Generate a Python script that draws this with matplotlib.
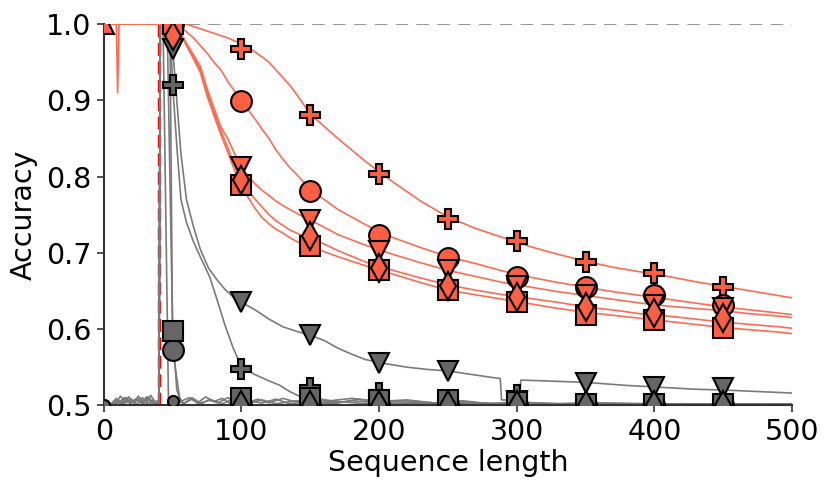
import numpy as np
import matplotlib
matplotlib.use('Agg')
import matplotlib.pyplot as plt

# marker positions (every 50 steps, from 50)
mark_x = [50, 100, 150, 200, 250, 300, 350, 400, 450]

# red curves (one shared x grid)
red_x = [0, 9, 10, 11, 45, 50, 55, 60, 65, 70, 75, 80, 85, 90, 95, 100, 105, 110, 115,
         120, 125, 130, 135, 140, 145, 150, 170, 190, 210, 230, 250, 270, 290, 310,
         330, 350, 370, 390, 410, 430, 450, 470, 490, 500]
red_plus = [1, 1, 0.91, 1, 1, 1, 1, 1, 0.997, 0.994, 0.991, 0.988, 0.985, 0.982, 0.978,
            0.975, 0.97, 0.963, 0.957, 0.95, 0.94, 0.93, 0.92, 0.908, 0.895, 0.882,
            0.85, 0.82, 0.793, 0.768, 0.747, 0.732, 0.72, 0.708, 0.698, 0.689, 0.681,
            0.675, 0.669, 0.662, 0.656, 0.65, 0.644, 0.641]
red_circ = [1, 1, 1, 1, 1, 1, 0.998, 0.99, 0.982, 0.972, 0.962, 0.95, 0.94, 0.925, 0.912,
            0.9, 0.887, 0.875, 0.862, 0.85, 0.835, 0.823, 0.812, 0.803, 0.793, 0.783,
            0.757, 0.737, 0.72, 0.707, 0.695, 0.686, 0.676, 0.668, 0.661, 0.655, 0.649,
            0.644, 0.639, 0.634, 0.629, 0.625, 0.621, 0.619]
red_tri = [1, 1, 1, 1, 1, 1, 0.99, 0.975, 0.96, 0.945, 0.915, 0.89, 0.865, 0.85, 0.83,
           0.812, 0.8, 0.79, 0.782, 0.775, 0.768, 0.762, 0.757, 0.752, 0.747, 0.743,
           0.724, 0.71, 0.698, 0.687, 0.677, 0.669, 0.661, 0.655, 0.649, 0.644, 0.639,
           0.634, 0.63, 0.627, 0.624, 0.62, 0.617, 0.615]
red_dia = [1, 1, 1, 1, 1, 1, 0.99, 0.973, 0.957, 0.94, 0.91, 0.885, 0.86, 0.838, 0.815,
           0.797, 0.782, 0.77, 0.76, 0.75, 0.742, 0.736, 0.73, 0.726, 0.722, 0.72,
           0.703, 0.688, 0.677, 0.667, 0.658, 0.651, 0.645, 0.64, 0.635, 0.629, 0.625,
           0.62, 0.617, 0.613, 0.609, 0.606, 0.603, 0.601]
red_sq = [1, 1, 1, 1, 1, 1, 0.99, 0.972, 0.955, 0.937, 0.906, 0.88, 0.855, 0.832, 0.808,
          0.789, 0.772, 0.758, 0.746, 0.738, 0.731, 0.726, 0.72, 0.715, 0.711, 0.708,
          0.695, 0.683, 0.672, 0.661, 0.651, 0.645, 0.639, 0.633, 0.627, 0.622, 0.618,
          0.614, 0.61, 0.606, 0.602, 0.599, 0.596, 0.594]

red_plus_m = [1, 0.968, 0.881, 0.804, 0.745, 0.715, 0.688, 0.673, 0.655]
red_circ_m = [1, 0.899, 0.781, 0.723, 0.693, 0.668, 0.655, 0.645, 0.631]
red_tri_m = [1, 0.812, 0.743, 0.703, 0.677, 0.657, 0.645, 0.632, 0.627]
red_dia_m = [0.985, 0.795, 0.722, 0.68, 0.657, 0.642, 0.629, 0.621, 0.614]
red_sq_m = [1, 0.789, 0.709, 0.677, 0.651, 0.635, 0.618, 0.612, 0.602]

# gray curves (own x grids)
gray_tri_x = [0, 8, 12, 16, 20, 24, 28, 32, 36, 40, 41, 48, 50, 53, 56, 60, 65, 70, 76, 82,
              88, 94, 100, 110, 120, 130, 140, 150, 160, 170, 180, 190, 200, 210, 220,
              235, 250, 265, 280, 288, 289, 302, 303, 320, 350, 380, 400, 430, 450, 475, 500]
gray_tri = [0.5, 0.5, 0.512, 0.503, 0.508, 0.501, 0.51, 0.502, 0.507, 0.5, 1.0, 1.0, 0.968,
            0.9, 0.83, 0.77, 0.735, 0.705, 0.68, 0.665, 0.652, 0.642, 0.635, 0.625, 0.613,
            0.603, 0.597, 0.592, 0.585, 0.575, 0.567, 0.56, 0.556, 0.553, 0.55, 0.547,
            0.545, 0.541, 0.537, 0.535, 0.507, 0.506, 0.533, 0.532, 0.53, 0.526, 0.524,
            0.521, 0.52, 0.518, 0.516]
gray_plus_x = [0, 6, 10, 14, 18, 22, 26, 30, 34, 38, 40, 41, 48, 50, 53, 56, 60, 65, 70, 77,
               82, 88, 94, 100, 110, 120, 128, 135, 142, 150, 165, 180, 200, 220, 240, 260,
               280, 300, 330, 360, 400, 450, 500]
gray_plus = [0.5, 0.5, 0.506, 0.501, 0.511, 0.503, 0.509, 0.5, 0.513, 0.502, 0.5, 1.0, 1.0,
             0.92, 0.84, 0.77, 0.74, 0.715, 0.695, 0.668, 0.64, 0.605, 0.575, 0.55, 0.54,
             0.532, 0.526, 0.518, 0.512, 0.51, 0.506, 0.509, 0.505, 0.507, 0.503, 0.506,
             0.502, 0.504, 0.502, 0.503, 0.501, 0.502, 0.501]
gray_sq_x = [0, 5, 9, 13, 17, 21, 25, 29, 33, 37, 40, 41, 46, 50, 53, 56, 62, 68, 74, 80,
             86, 92, 98, 105, 112, 120, 130, 140, 155, 170, 185, 200, 220, 240, 260, 280,
             300, 330, 360, 400, 450, 500]
gray_sq = [0.5, 0.5, 0.509, 0.503, 0.507, 0.5, 0.512, 0.504, 0.509, 0.501, 0.5, 1.0, 1.0,
           0.597, 0.52, 0.505, 0.51, 0.503, 0.511, 0.505, 0.509, 0.502, 0.51, 0.504, 0.508,
           0.503, 0.509, 0.504, 0.507, 0.503, 0.508, 0.504, 0.506, 0.503, 0.505, 0.502,
           0.504, 0.502, 0.503, 0.502, 0.501, 0.502]
gray_circ_x = [0, 7, 11, 15, 19, 23, 27, 31, 35, 39, 40, 41, 48, 50, 55, 58, 64, 70, 76, 83,
               90, 97, 104, 115, 125, 135, 150, 165, 180, 200, 230, 260, 300, 350, 400, 450, 500]
gray_circ = [0.5, 0.5, 0.504, 0.51, 0.502, 0.508, 0.503, 0.511, 0.501, 0.506, 0.5, 1.0, 1.0,
             0.573, 0.51, 0.502, 0.508, 0.501, 0.507, 0.503, 0.51, 0.502, 0.506, 0.503,
             0.508, 0.502, 0.505, 0.502, 0.506, 0.503, 0.502, 0.504, 0.501, 0.502, 0.501,
             0.502, 0.501]
gray_dia_x = [0, 4, 8, 12, 16, 20, 24, 28, 32, 36, 40, 41, 43, 47, 52, 58, 64, 70, 78, 86,
              95, 105, 115, 125, 140, 155, 170, 190, 210, 240, 270, 300, 340, 380, 420, 460, 500]
gray_dia = [0.5, 0.5, 0.507, 0.502, 0.51, 0.504, 0.509, 0.501, 0.511, 0.503, 0.5, 1.0, 1.0,
            0.5, 0.508, 0.502, 0.51, 0.503, 0.507, 0.502, 0.509, 0.503, 0.507, 0.502, 0.506,
            0.503, 0.505, 0.502, 0.505, 0.502, 0.503, 0.501, 0.502, 0.501, 0.502, 0.501, 0.501]

gray_tri_m = [0.968, 0.635, 0.592, 0.556, 0.545, 0.506, 0.529, 0.524, 0.522]
gray_plus_m = [0.92, 0.548, 0.522, 0.516, 0.503, 0.514, 0.5, 0.5, 0.5]
gray_sq_m = [0.597, 0.51, 0.51, 0.507, 0.507, 0.504, 0.502, 0.502, 0.502]
gray_circ_m = [0.573, 0.5, 0.5, 0.5, 0.5, 0.5, 0.5, 0.5, 0.5]
gray_dia_m = [1.0, 0.5, 0.5, 0.5, 0.5, 0.5, 0.5, 0.5, 0.5]

# small markers near the origin
small_x = [0, 50]
small_y = [0.5, 0.505]
red_start_x = [0]
red_start_y = [1.0]

threshold = 40

red_line = '#ff6b50'
red_fill = '#ff5f42'
gray_line = '#7a7a7a'
gray_fill = '#666666'

plt.rcParams['font.family'] = ['DejaVu Sans']
fig = plt.figure(figsize=(8.31, 4.93), dpi=100)
ax = fig.add_axes([0.125, 0.178, 0.828, 0.773])

ax.axhline(1.0, color='#999999', ls=(0, (6, 4)), lw=1.5, zorder=1)
ax.axvline(threshold, color='red', ls='--', lw=2.5, zorder=2)

gray_series = [(gray_tri_x, gray_tri, gray_tri_m, 'v'),
               (gray_plus_x, gray_plus, gray_plus_m, 'P'),
               (gray_circ_x, gray_circ, gray_circ_m, 'o'),
               (gray_sq_x, gray_sq, gray_sq_m, 's'),
               (gray_dia_x, gray_dia, gray_dia_m, 'd')]
red_series = [(red_plus, red_plus_m, 'P'),
              (red_circ, red_circ_m, 'o'),
              (red_tri, red_tri_m, 'v'),
              (red_sq, red_sq_m, 's'),
              (red_dia, red_dia_m, 'd')]

for gx, gy, gm, mk in gray_series:
    ax.plot(gx, gy, color=gray_line, lw=1.2, zorder=2)
for ry, rm, mk in red_series:
    ax.plot(red_x, ry, color=red_line, lw=1.2, zorder=2)

for gx, gy, gm, mk in gray_series:
    ms = 14 if mk == 'd' else 15
    ax.plot(mark_x, gm, ls='none', marker=mk, ms=ms, mfc=gray_fill,
            mec='black', mew=1.5, zorder=3)
ax.plot(small_x, small_y, ls='none', marker='o', ms=8, mfc=gray_fill,
        mec='black', mew=1.5, zorder=3)
for ry, rm, mk in red_series:
    ms = 14 if mk == 'd' else 15
    ax.plot(mark_x, rm, ls='none', marker=mk, ms=ms, mfc=red_fill,
            mec='black', mew=1.5, zorder=4)
ax.plot(red_start_x, red_start_y, ls='none', marker='^', ms=15, mfc=red_fill,
        mec='black', mew=1.5, zorder=4)

ax.set_xlim(0, 500)
ax.set_ylim(0.5, 1.0)
ax.set_xticks([0, 100, 200, 300, 400, 500])
ax.set_yticks([0.5, 0.6, 0.7, 0.8, 0.9, 1.0])
ax.set_yticklabels(['0.5', '0.6', '0.7', '0.8', '0.9', '1.0'])
ax.set_xlabel('Sequence length', fontsize=20.5, labelpad=2)
ax.set_ylabel('Accuracy', fontsize=20.5, labelpad=6)
ax.tick_params(labelsize=20.5, direction='out', length=5, width=1.2, color='#333333', pad=4)
ax.spines['top'].set_visible(False)
ax.spines['right'].set_visible(False)
for s in ['left', 'bottom']:
    ax.spines[s].set_color('#333333')
    ax.spines[s].set_linewidth(1.5)

fig.savefig('out.png', dpi=100)
